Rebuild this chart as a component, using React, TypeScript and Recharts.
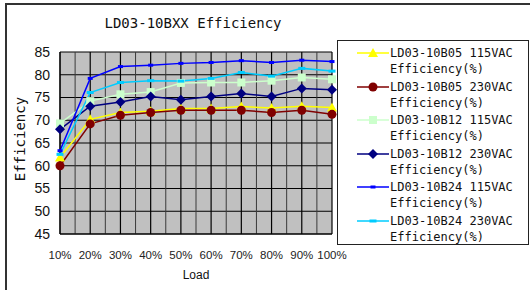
import React from 'react';
import { LineChart, Line, XAxis, YAxis, CartesianGrid, ReferenceLine } from 'recharts';

// load points (%)
const loads = [10, 20, 30, 40, 50, 60, 70, 80, 90, 100];
const halfSteps = [15, 25, 35, 45, 55, 65, 75, 85, 95];
const yTicks = [45, 50, 55, 60, 65, 70, 75, 80, 85];

// efficiency readings (%)
const b05_115 = [61.8, 70.2, 71.7, 72.0, 72.6, 72.6, 73.0, 72.7, 73.1, 72.8];
const b05_230 = [60.0, 69.2, 71.1, 71.7, 72.2, 72.2, 72.2, 71.7, 72.2, 71.3];
const b12_115 = [69.3, 74.2, 75.7, 76.2, 78.2, 78.3, 78.3, 78.7, 79.4, 79.0];
const b12_230 = [68.0, 73.1, 74.0, 75.2, 74.5, 75.2, 75.9, 75.2, 77.0, 76.7];
const b24_115 = [63.3, 79.2, 81.8, 82.1, 82.5, 82.7, 83.1, 82.7, 83.2, 82.9];
const b24_230 = [62.5, 76.1, 78.3, 78.7, 78.6, 79.2, 80.5, 79.7, 81.4, 80.8];

const data = loads.map((load, i) => ({
  load,
  b05_115: b05_115[i],
  b05_230: b05_230[i],
  b12_115: b12_115[i],
  b12_230: b12_230[i],
  b24_115: b24_115[i],
  b24_230: b24_230[i],
}));

type Shape = 'triangle' | 'circle' | 'square' | 'diamond' | 'dash' | 'wide';

const series: { key: string; name: string; color: string; shape: Shape }[] = [
  { key: 'b05_115', name: 'LD03-10B05 115VAC', color: '#ffff00', shape: 'triangle' },
  { key: 'b05_230', name: 'LD03-10B05 230VAC', color: '#800000', shape: 'circle' },
  { key: 'b12_115', name: 'LD03-10B12 115VAC', color: '#ccffcc', shape: 'square' },
  { key: 'b12_230', name: 'LD03-10B12 230VAC', color: '#000080', shape: 'diamond' },
  { key: 'b24_115', name: 'LD03-10B24 115VAC', color: '#0000ff', shape: 'dash' },
  { key: 'b24_230', name: 'LD03-10B24 230VAC', color: '#00ccff', shape: 'wide' },
];

const marker = (shape: Shape, color: string, cx: number, cy: number, key?: string) => {
  switch (shape) {
    case 'triangle':
      return <polygon key={key} points={`${cx},${cy - 5} ${cx - 5},${cy + 4} ${cx + 5},${cy + 4}`} fill={color} />;
    case 'circle':
      return <circle key={key} cx={cx} cy={cy} r={4.5} fill={color} />;
    case 'square':
      return <rect key={key} x={cx - 4} y={cy - 4} width={8} height={8} fill={color} />;
    case 'diamond':
      return <polygon key={key} points={`${cx},${cy - 5} ${cx + 5},${cy} ${cx},${cy + 5} ${cx - 5},${cy}`} fill={color} />;
    case 'dash':
      return <rect key={key} x={cx - 2.5} y={cy - 1.5} width={5} height={3} fill={color} />;
    default:
      return <rect key={key} x={cx - 3.5} y={cy - 1.5} width={7} height={3} fill={color} />;
  }
};

const LegendBox = () => (
  <div
    style={{
      position: 'absolute',
      left: 337,
      top: 40,
      width: 192,
      height: 205,
      border: '1px solid #222',
      background: '#fff',
      boxSizing: 'border-box',
      paddingTop: 2,
    }}
  >
    {series.map((s) => (
      <div key={s.key} style={{ height: 33.5, position: 'relative' }}>
        <svg width={32} height={14} style={{ position: 'absolute', left: 19, top: 3 }}>
          <line x1={0} x2={32} y1={7} y2={7} stroke={s.color} strokeWidth={1.5} />
          {marker(s.shape, s.color, 16, 7)}
        </svg>
        <div
          style={{
            position: 'absolute',
            left: 52,
            top: 2,
            fontFamily: '"DejaVu Sans Mono", monospace',
            fontSize: 12,
            lineHeight: '16px',
            color: '#111',
            whiteSpace: 'nowrap',
          }}
        >
          {s.name}
          <br />
          Efficiency(%)
        </div>
      </div>
    ))}
  </div>
);

export default function App() {
  return (
    <div style={{ position: 'absolute', left: 0, top: 0, width: 530, height: 290, background: '#fff', overflow: 'hidden' }}>
      <div
        style={{
          position: 'absolute',
          left: 5,
          top: 3,
          width: 530,
          height: 290,
          borderLeft: '2px solid #333',
          borderTop: '2px solid #333',
        }}
      />
      <div
        style={{
          position: 'absolute',
          left: 0,
          width: 386,
          top: 15,
          textAlign: 'center',
          fontFamily: '"DejaVu Sans Mono", monospace',
          fontSize: 14,
          color: '#111',
        }}
      >
        LD03-10BXX Efficiency
      </div>
      <div style={{ position: 'absolute', left: 0, top: 0 }}>
        <LineChart
          width={530}
          height={290}
          data={data}
          margin={{ top: 52, right: 198, bottom: 6, left: 20 }}
        >
          <CartesianGrid stroke="#000" strokeWidth={1.2} fill="#c0c0c0" fillOpacity={1} />
          {halfSteps.map((h) => (
            <ReferenceLine key={h} x={h} stroke="#3a3a3a" strokeWidth={1} />
          ))}
          <XAxis
            dataKey="load"
            type="number"
            domain={[10, 100]}
            ticks={loads}
            tickFormatter={(v: number) => `${v}%`}
            tickLine={false}
            axisLine={{ stroke: '#000' }}
            tickMargin={11}
            height={50}
            interval={0}
            tick={{ fontSize: 11.5, fill: '#222', fontFamily: '"Liberation Sans", Arial, sans-serif' }}
            label={{
              value: 'Load',
              position: 'insideBottom',
              offset: 5,
              fontSize: 12,
              fill: '#111',
              fontFamily: '"Liberation Sans", Arial, sans-serif',
            }}
          />
          <YAxis
            domain={[45, 85]}
            ticks={yTicks}
            interval={0}
            width={40}
            tickLine={false}
            axisLine={{ stroke: '#000' }}
            tickMargin={4}
            tick={{ fontSize: 14, fill: '#111', fontFamily: '"Liberation Sans", Arial, sans-serif' }}
            label={{
              value: 'Efficiency',
              angle: -90,
              position: 'center',
              dx: -20,
              dy: -4,
              fontSize: 14,
              fill: '#111',
              fontFamily: '"DejaVu Sans Mono", monospace',
            }}
          />
          {series.map((s) => (
            <Line
              key={s.key}
              dataKey={s.key}
              name={s.name}
              stroke={s.color}
              strokeWidth={1.5}
              isAnimationActive={false}
              dot={(p: any) => marker(s.shape, s.color, p.cx, p.cy, `${s.key}-${p.index}`)}
              activeDot={false}
            />
          ))}
        </LineChart>
      </div>
      <LegendBox />
    </div>
  );
}
